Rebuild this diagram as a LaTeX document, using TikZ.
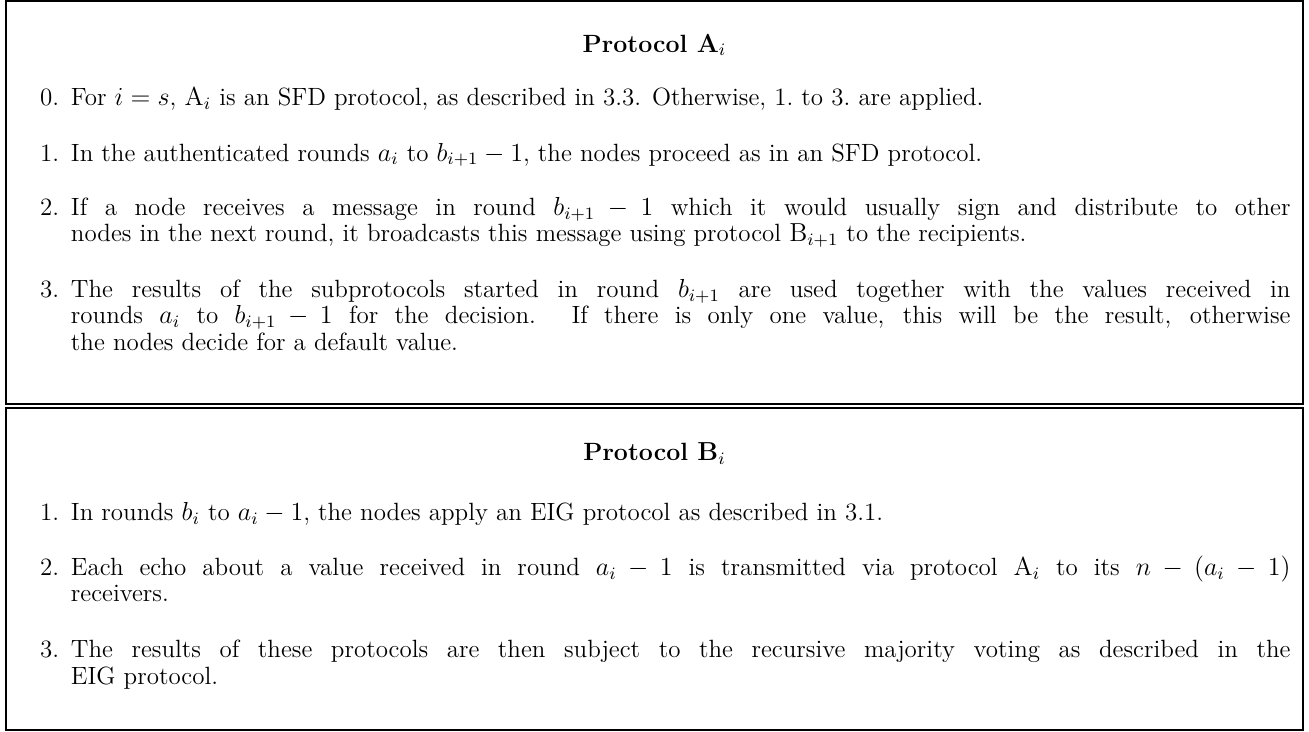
\documentclass[tikz,border=0pt]{standalone}
\usepackage{amsmath}
\tikzset{
  frame/.style={draw, line width=1pt},
  itemtext/.style={anchor=base west, text width=562pt, align=justify, inner sep=0pt, font=\fontsize{11.5}{12}\selectfont},
  itemlabel/.style={anchor=base east, inner sep=0pt, font=\fontsize{11.5}{12}\selectfont},
  boxtitle/.style={anchor=base, inner sep=0pt, font=\fontsize{11.5}{12}\selectfont\bfseries},
}
\begin{document}
\begin{tikzpicture}[x=1pt,y=-1pt]
\useasboundingbox (0,0) rectangle (603.2,337.3);
% frames
\draw[frame] (2.8,0.6) rectangle (600.6,186);
\draw[frame] (2.8,188) rectangle (600.6,336.5);
% Protocol A
\node[boxtitle] (ta) at (301.6,24) {Protocol $\mathbf{A}_i$};
\node[itemlabel] (a0l) at (27.5,48.8) {0.};
\node[itemtext] (a0) at (32.5,48.8) {For $i=s$, $\mathrm{A}_i$ is an SFD protocol, as described in 3.3. Otherwise, 1.\ to 3.\ are applied.};
\node[itemlabel] (a1l) at (27.5,74.2) {1.};
\node[itemtext] (a1) at (32.5,74.2) {In the authenticated rounds $a_i$ to $b_{i+1}-1$, the nodes proceed as in an SFD protocol.};
\node[itemlabel] (a2l) at (27.5,99.5) {2.};
\node[itemtext] (a2) at (32.5,99.5) {If a node receives a message in round $b_{i+1}-1$ which it would usually sign and distribute to other\linebreak nodes in the next round, it broadcasts this message using protocol $\mathrm{B}_{i+1}$ to the recipients.};
\node[itemlabel] (a3l) at (27.5,137.3) {3.};
\node[itemtext] (a3) at (32.5,137.3) {The results of the subprotocols started in round $b_{i+1}$ are used together with the values received in\linebreak rounds $a_i$ to $b_{i+1}-1$ for the decision. If there is only one value, this will be the result, otherwise\linebreak the nodes decide for a default value.};
% Protocol B
\node[boxtitle] (tb) at (301.6,212.4) {Protocol $\mathbf{B}_i$};
\node[itemlabel] (b1l) at (27.5,240) {1.};
\node[itemtext] (b1) at (32.5,240) {In rounds $b_i$ to $a_i-1$, the nodes apply an EIG protocol as described in 3.1.};
\node[itemlabel] (b2l) at (27.5,265.4) {2.};
\node[itemtext] (b2) at (32.5,265.4) {Each echo about a value received in round $a_i-1$ is transmitted via protocol $\mathrm{A}_i$ to its $n-(a_i-1)$\linebreak receivers.};
\node[itemlabel] (b3l) at (27.5,303.2) {3.};
\node[itemtext] (b3) at (32.5,303.2) {The results of these protocols are then subject to the recursive majority voting as described in the\linebreak EIG protocol.};
\end{tikzpicture}
\end{document}
